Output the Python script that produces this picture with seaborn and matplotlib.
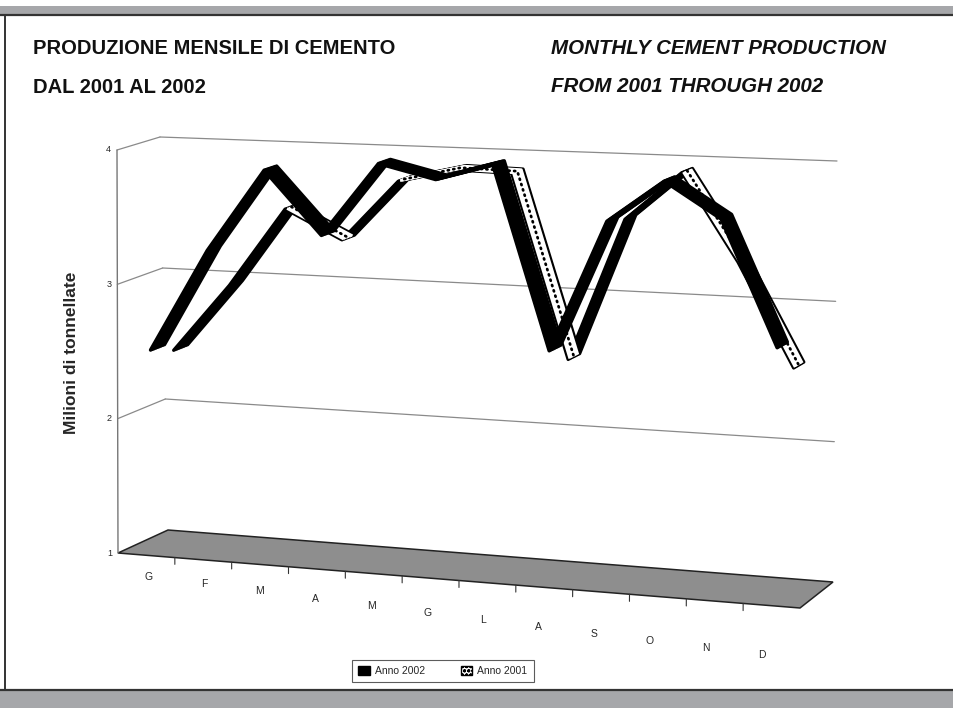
import numpy as np
import matplotlib
matplotlib.use("Agg")
import matplotlib.pyplot as plt
import matplotlib.transforms as mtransforms
from matplotlib.patches import Patch, Rectangle, Polygon
from matplotlib.lines import Line2D
import seaborn as sns

# data (milioni di tonnellate)
months = ['G', 'F', 'M', 'A', 'M', 'G', 'L', 'A', 'S', 'O', 'N', 'D']
anno_2002 = [2.51, 3.27, 3.88, 3.42, 3.96, 3.86, 3.98, 2.67, 3.61, 3.91, 3.66, 2.78]
anno_2001 = [2.44, 2.95, 3.54, 3.33, 3.78, 3.88, 3.87, 2.54, 3.57, 3.92, 3.3, 2.57]
y_ticks = [1, 2, 3, 4]

W, H = 954, 708

# pixel corners of the 3d box: [month start/end][front/back][value 1/4]
CORNERS = np.array([
    [[(118, 553), (117, 150)], [(168, 530), (160, 137)]],
    [[(800, 608), (804, 175)], [(833, 582), (837, 161)]],
], dtype=float)


def project(m, w, v):
    """month index, depth (0 front .. 1 back), value -> display coords"""
    s = (np.asarray(m, float) + 0.5) / 12
    t = (np.asarray(v, float) - 1) / 3
    s, w, t = np.broadcast_arrays(s, np.asarray(w, float), t)
    out = np.zeros(s.shape + (2,))
    for i, fs in ((0, 1 - s), (1, s)):
        for j, fw in ((0, 1 - w), (1, w)):
            for k, ft in ((0, 1 - t), (1, t)):
                out += (fs * fw * ft)[..., None] * CORNERS[i, j, k]
    out[..., 1] = H - out[..., 1]
    return out


class Box(mtransforms.Transform):
    """Maps one plane of the 3d chart box to the screen."""
    input_dims = output_dims = 2

    def __init__(self, plane, fixed):
        super().__init__()
        self.plane, self.fixed = plane, fixed

    def transform_non_affine(self, values):
        a, b = np.asarray(values, float).reshape(-1, 2).T
        if self.plane == 'wall':    # (month, value) at a given depth
            return project(a, self.fixed, b)
        if self.plane == 'side':    # (depth, value) at a given month position
            return project(self.fixed, a, b)
        return project(a, b, self.fixed)   # floor: (month, depth) at a value


sns.set_style("white")
plt.rcParams['font.family'] = ['Liberation Sans', 'DejaVu Sans']

fig = plt.figure(figsize=(W / 100, H / 100), dpi=100)
ax = fig.add_axes([0, 0, 1, 1])
ax.set_axis_off()

# page frame
fig.add_artist(Rectangle((0, 1 - 14 / H), 1, 8 / H, transform=fig.transFigure,
                         facecolor='#a6a7aa', edgecolor='none'))
fig.add_artist(Rectangle((0, 0), 1, 18 / H, transform=fig.transFigure,
                         facecolor='#a6a7aa', edgecolor='none'))
fig.add_artist(Line2D([0, 1], [1 - 15 / H] * 2, transform=fig.transFigure, color='#333333', lw=1.6))
fig.add_artist(Line2D([0, 1], [18 / H] * 2, transform=fig.transFigure, color='#333333', lw=1.6))
fig.add_artist(Line2D([5 / W] * 2, [18 / H, 1 - 15 / H], transform=fig.transFigure, color='#333333', lw=1.4))

# titles
fig.text(33 / W, 1 - 39 / H, 'PRODUZIONE MENSILE DI CEMENTO\nDAL 2001 AL 2002',
         ha='left', va='top', fontsize=14.5, fontweight='bold',
         linespacing=2.35, color='#111111')
fig.text(551 / W, 1 - 39 / H, 'MONTHLY CEMENT PRODUCTION\nFROM 2001 THROUGH 2002',
         ha='left', va='top', fontsize=14.8, fontweight='bold', style='italic',
         linespacing=2.3, color='#111111')

# floor
ax.add_patch(Polygon([(-0.5, 0), (11.5, 0), (11.5, 1), (-0.5, 1)], closed=True,
                     transform=Box('floor', 1), facecolor='#8e8e8e',
                     edgecolor='#222222', lw=1.1))

# gridlines on side and back wall
for v in y_ticks[1:]:
    ax.plot([0, 1], [v, v], transform=Box('side', -0.5), color='#8a8a8a', lw=0.9)
    ax.plot([-0.5, 11.5], [v, v], transform=Box('wall', 1), color='#8a8a8a', lw=0.9)
ax.plot([-0.5, -0.5], [1, 4], transform=Box('wall', 0), color='#777777', lw=1)
for v in y_ticks:
    ax.text(-0.5, v, str(v), transform=mtransforms.offset_copy(Box('wall', 0), fig, x=-6, units='dots'),
            ha='right', va='center', fontsize=6.5)

# month ticks and labels
for b in np.arange(0.5, 11, 1):
    ax.plot([b, b], [1, 0.95], transform=Box('wall', 0), color='#333333', lw=0.8)
for i, m in enumerate(months):
    ax.text(i, 1, m, transform=mtransforms.offset_copy(Box('wall', 0), fig, x=2 - 1.1 * i,
                                                       y=-(22 + 2.5 * i), units='dots'),
            ha='center', va='center', fontsize=7.5)

fig.text(72 / W, 1 - 353 / H, 'Milioni di tonnellate', rotation=90, ha='center', va='center',
         fontsize=12.5, fontweight='bold')

x = np.arange(len(months))


def layer(xs, ys, w, color, lw, **kw):
    sns.lineplot(x=xs, y=ys, ax=ax, color=color, lw=lw, transform=Box('wall', w),
                 estimator=None, sort=False, legend=False, **kw)


def top_runs(values, w0, w1):
    """runs of segments whose upper face is seen"""
    p0, p1 = project(x, w0, values), project(x, w1, values)
    runs, start = [], None
    for i in range(len(x) - 1):
        d, e = p0[i + 1] - p0[i], p1[i] - p0[i]
        top = d[0] * e[1] - d[1] * e[0] > 0
        if top and start is None:
            start = i
        if not top and start is not None:
            runs.append((start, i))
            start = None
    if start is not None:
        runs.append((start, len(x) - 1))
    return runs


# Anno 2001 ribbon (back row)
v01 = np.array(anno_2001)
for w in np.linspace(0.6, 0.9, 9):
    layer(x, v01, w, 'black', 2.4)
for a, b in top_runs(v01, 0.6, 0.9):
    xs, ys = x[a:b + 1], v01[a:b + 1]
    for w in np.linspace(0.645, 0.855, 7):
        layer(xs, ys, w, 'white', 2.0, solid_capstyle='butt')
    layer(xs, ys, 0.75, 'black', 2.0, linestyle=(0, (0.4, 1.6)), dash_capstyle='round')

# Anno 2002 ribbon (front row)
for w in np.linspace(0.1, 0.4, 9):
    layer(x, anno_2002, w, 'black', 2.6)

handles = [Patch(facecolor='black', edgecolor='black', label='Anno 2002'),
           Patch(facecolor='white', edgecolor='black', hatch='oooo', label='Anno 2001')]
leg = fig.legend(handles=handles, loc='center', bbox_to_anchor=(443 / W, 1 - 671 / H), ncol=2,
                 frameon=True, fancybox=False, fontsize=7.5, handlelength=1.1, handleheight=1.0,
                 handletextpad=0.5, columnspacing=3.4, borderpad=0.6, borderaxespad=0,
                 edgecolor='#333333')
leg.get_frame().set_linewidth(0.8)

fig.savefig('out.png', dpi=100)
